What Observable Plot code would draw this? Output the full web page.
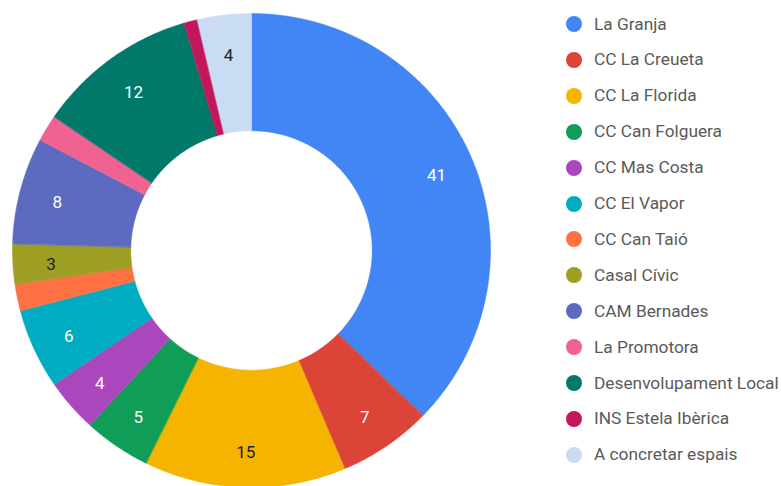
<!DOCTYPE html>
<html>
<head>
<meta charset="utf-8">
<script src="https://cdn.jsdelivr.net/npm/d3@7"></script>
<script src="https://cdn.jsdelivr.net/npm/@observablehq/plot@0.6"></script>
<style>
  html, body { margin: 0; padding: 0; background: #fff; }
  #wrap { position: relative; width: 781px; height: 486px; overflow: hidden; font-family: Roboto, "Noto Sans", sans-serif; }
  #chart { position: absolute; left: 0; top: 0; }
  #legend { position: absolute; left: 566px; top: 0; }
  .row { position: absolute; left: 0; height: 20px; display: flex; align-items: center; white-space: nowrap; }
  .dot { width: 16px; height: 16px; border-radius: 50%; margin-right: 12px; flex: none; }
  .lab { font-size: 16px; color: #5a5a5a; display: inline-block; transform: scaleX(1.08); transform-origin: left center; }
</style>
</head>
<body>
<div id="wrap">
  <div id="chart"></div>
  <div id="legend"></div>
</div>
<script>
const categories = ["La Granja", "CC La Creueta", "CC La Florida", "CC Can Folguera", "CC Mas Costa", "CC El Vapor", "CC Can Taió", "Casal Cívic", "CAM Bernades", "La Promotora", "Desenvolupament Local", "INS Estela Ibèrica", "A concretar espais"];
const values = [41, 7, 15, 5, 4, 6, 2, 3, 8, 2, 12, 1, 4];
const palette = ["#4285F4", "#DB4437", "#F4B400", "#0F9D58", "#AB47BC", "#00ACC1", "#FF7043", "#9E9D24", "#5C6BC0", "#F06292", "#00796B", "#C2185B", "#CADCF3"];

const data = categories.map((c, i) => ({cat: c, value: values[i]}));
const arcs = d3.pie().sort(null).value(d => d.value).startAngle(0).endAngle(2 * Math.PI)(data);

const inner = 0.505, outer = 1;
const pts = [];
arcs.forEach(a => {
  const n = Math.max(4, Math.ceil((a.endAngle - a.startAngle) / 0.01));
  for (let k = 0; k <= n; k++) {
    const t = a.startAngle + (a.endAngle - a.startAngle) * k / n;
    pts.push({cat: a.data.cat, x: outer * Math.sin(t), y: outer * Math.cos(t)});
  }
  for (let k = n; k >= 0; k--) {
    const t = a.startAngle + (a.endAngle - a.startAngle) * k / n;
    pts.push({cat: a.data.cat, x: inner * Math.sin(t), y: inner * Math.cos(t)});
  }
});

function yiq(hex) {
  const c = d3.rgb(hex);
  return (c.r * 299 + c.g * 587 + c.b * 114) / 1000;
}
const labelR = 0.84;
const labels = arcs.filter(a => a.data.value >= 3).map(a => {
  const m = (a.startAngle + a.endAngle) / 2;
  const col = palette[categories.indexOf(a.data.cat)];
  return {x: labelR * Math.sin(m), y: labelR * Math.cos(m), text: String(a.data.value), tc: yiq(col) >= 135 ? "#222222" : "#ffffff"};
});

const cx = 251, cy = 250, rx = 239, ry = 237;
const plot = Plot.plot({
  width: 520,
  height: 486,
  margin: 0,
  x: {domain: [-1, 1], range: [cx - rx, cx + rx], axis: null},
  y: {domain: [-1, 1], range: [cy + ry, cy - ry], axis: null},
  color: {domain: categories, range: palette},
  marks: [
    Plot.line(pts, {x: "x", y: "y", z: "cat", fill: "cat", stroke: "cat", strokeWidth: 0.5, curve: "linear-closed"}),
    Plot.text(labels, {x: "x", y: "y", dy: 3, text: "text", fill: d => d.tc, fontSize: 17, fontFamily: "Roboto, sans-serif"})
  ]
});
document.getElementById("chart").appendChild(plot);

const legend = document.getElementById("legend");
const scale = plot.scale("color");
categories.forEach((c, i) => {
  const row = document.createElement("div");
  row.className = "row";
  row.style.top = (14 + i * 35.9) + "px";
  const dot = document.createElement("span");
  dot.className = "dot";
  dot.style.background = palette[scale.domain.indexOf(c)];
  const lab = document.createElement("span");
  lab.className = "lab";
  lab.textContent = c;
  row.appendChild(dot);
  row.appendChild(lab);
  legend.appendChild(row);
});
</script>
</body>
</html>
